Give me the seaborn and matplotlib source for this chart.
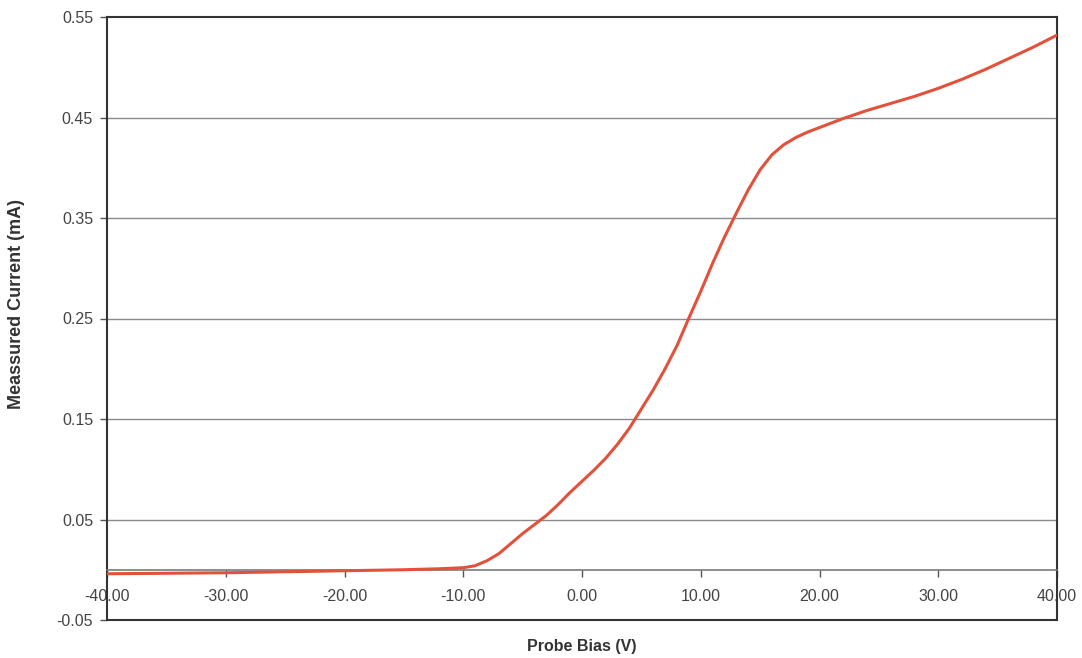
import numpy as np
import pandas as pd
import matplotlib
matplotlib.use("Agg")
import matplotlib.pyplot as plt
import seaborn as sns

# Data
probe_bias = [-40, -35, -30, -25, -20, -15, -12, -10, -9, -8, -7, -6, -5, -4, -3, -2, -1,
              0, 1, 2, 3, 4, 5, 6, 7, 8, 9, 10, 11, 12, 13, 14, 15, 16, 17, 18, 19, 20,
              22, 24, 26, 28, 30, 32, 34, 36, 38, 40]
measured_current = [-0.004, -0.0035, -0.003, -0.002, -0.001, 0.000, 0.001, 0.002, 0.004,
                    0.009, 0.016, 0.026, 0.036, 0.045, 0.054, 0.065, 0.077,
                    0.088, 0.099, 0.111, 0.125, 0.141, 0.160, 0.179, 0.200, 0.223, 0.2505,
                    0.277, 0.305, 0.331, 0.355, 0.378, 0.398, 0.413, 0.423, 0.430, 0.4355,
                    0.440, 0.449, 0.457, 0.464, 0.471, 0.479, 0.488, 0.498, 0.509, 0.520,
                    0.532]
x_ticks = [-40, -30, -20, -10, 0, 10, 20, 30, 40]
x_tick_labels = ["-40.00", "-30.00", "-20.00", "-10.00", "0.00", "10.00", "20.00", "30.00", "40.00"]
y_ticks = [-0.05, 0.05, 0.15, 0.25, 0.35, 0.45, 0.55]
y_tick_labels = ["-0.05", "0.05", "0.15", "0.25", "0.35", "0.45", "0.55"]
grid_levels = [0.05, 0.15, 0.25, 0.35, 0.45]

df = pd.DataFrame({"Probe Bias (V)": probe_bias, "Measured Current (mA)": measured_current})

sns.set_theme(style="white")
plt.rcParams["font.family"] = ["Liberation Sans", "DejaVu Sans"]

fig = plt.figure(figsize=(10.82, 6.58), dpi=100)
ax = fig.add_axes([107 / 1082, 1 - 620 / 658, (1057 - 107) / 1082, (620 - 17) / 658])

for g in grid_levels:
    ax.axhline(g, color="#8a8a8a", lw=1.0, zorder=1)

sns.lineplot(data=df, x="Probe Bias (V)", y="Measured Current (mA)", ax=ax,
             color="#e2513c", lw=2.2, zorder=3)

ax.set_xlim(-40, 40)
ax.set_ylim(-0.05, 0.55)

# x axis drawn at zero
ax.spines["bottom"].set_position(("data", 0))
ax.spines["bottom"].set_color("#7a7a7a")
ax.spines["bottom"].set_linewidth(1.2)
for s in ["left", "top", "right"]:
    ax.spines[s].set_color("#333333")
    ax.spines[s].set_linewidth(1.5)
# frame bottom border
ax.plot([0, 1], [0, 0], transform=ax.transAxes, color="#333333", lw=1.5,
        clip_on=False, zorder=5)

ax.set_xticks(x_ticks)
ax.set_xticklabels(x_tick_labels)
ax.set_yticks(y_ticks)
ax.set_yticklabels(y_tick_labels)
ax.tick_params(axis="x", direction="out", length=5, width=1, color="#555555",
               labelsize=11.5, labelcolor="#444444", pad=9, bottom=True)
ax.tick_params(axis="y", direction="out", length=5, width=1, color="#555555",
               labelsize=11.5, labelcolor="#444444", pad=5, left=True)

ax.set_xlabel("")
ax.set_ylabel("")
fig.text(582 / 1082, 1 - 646 / 658, "Probe Bias (V)", ha="center", va="center",
         fontsize=11.5, fontweight="bold", color="#333333")
fig.text(17 / 1082, 1 - 304 / 658, "Meassured Current (mA)", ha="center", va="center",
         rotation=90, fontsize=13, fontweight="bold", color="#333333")

fig.savefig("out.png", dpi=100, facecolor="white")
